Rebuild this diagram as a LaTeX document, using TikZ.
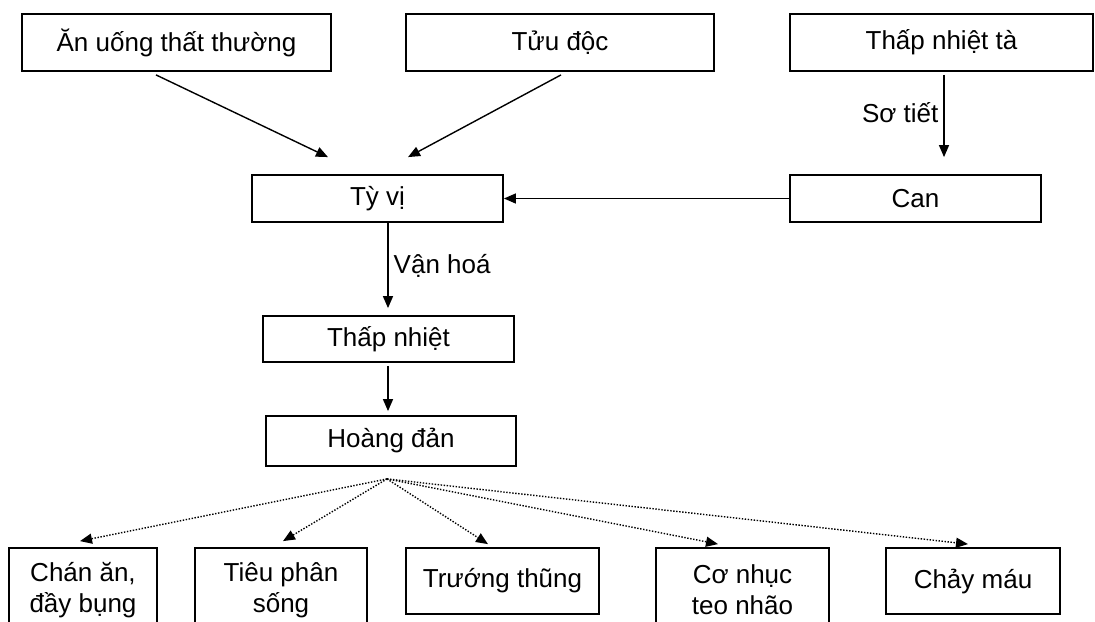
\documentclass[tikz,border=0pt]{standalone}
\usepackage{fontspec}
\setmainfont{Liberation Sans}
\usetikzlibrary{arrows.meta}

\begin{document}
\begin{tikzpicture}[x=0.5pt, y=-0.5pt, font=\fontsize{13}{15.5}\selectfont,
			khung/.style={draw, line width=0.9pt, inner sep=0pt, align=center},
			muiten/.style={line width=0.7pt, -{Triangle[length=6pt,width=5pt]}},
			chamcham/.style={muiten, dash pattern=on 0.7pt off 0.8pt}]
	\useasboundingbox (0,0) rectangle (1095,621);
	\clip (0,0) rectangle (1095,621);
	\node[khung, minimum width=154.5pt, minimum height=28.5pt] (anuong) at (176.5,42.5) {Ăn uống thất thường};
	\node[khung, minimum width=154pt, minimum height=28.5pt] (tuudoc) at (560,42.5) {Tửu độc};
	\node[khung, minimum width=151.5pt, minimum height=28.5pt] (thapnhietta) at (941.5,42.5) {Thấp nhiệt tà};
	\node[khung, minimum width=125.5pt, minimum height=23.5pt] (tyvi) at (377.5,198.5) {Tỳ vị};
	\node[khung, minimum width=125.5pt, minimum height=23.5pt] (can) at (915.5,198.5) {Can};
	\node[khung, minimum width=125.5pt, minimum height=23pt] (thapnhiet) at (388.5,339) {Thấp nhiệt};
	\node[khung, minimum width=125pt, minimum height=25pt] (hoangdan) at (391,441) {Hoàng đản};
	\node[khung, minimum width=74pt, minimum height=42pt] (chanan) at (83,590) {Chán ăn,\\đầy bụng};
	\node[khung, minimum width=86pt, minimum height=42pt] (tieuphan) at (281,590) {Tiêu phân\\sống};
	\node[khung, minimum width=96.5pt, minimum height=33pt] (truongthung) at (502.5,581) {Trướng thũng};
	\node[khung, minimum width=86.5pt, minimum height=42pt] (conhuc) at (742.5,590) {Cơ nhục\\teo nhão};
	\node[khung, minimum width=87pt, minimum height=33pt] (chaymau) at (973,581) {Chảy máu};

	\draw[muiten] ([shift={(-20.5,3)}]anuong.south) -- ([shift={(-49.5,-17)}]tyvi.north);
	\draw[muiten] ([shift={(1,3)}]tuudoc.south) -- ([shift={(30.5,-17)}]tyvi.north);
	\draw[muiten] ([shift={(2.5,3)}]thapnhietta.south) -- node[left, pos=0.46, inner sep=2.5pt] {Sơ tiết} ([shift={(28.5,-17)}]can.north);
	\draw[muiten] (can.west) -- (tyvi.east);
	\draw[muiten] ([shift={(10.5,0)}]tyvi.south) -- node[right, midway, inner sep=2.5pt] {Vận hoá} ([shift={(-0.5,-7)}]thapnhiet.north);
	\draw[muiten] ([shift={(-0.5,3)}]thapnhiet.south) -- ([shift={(-3,-4)}]hoangdan.north);

	\coordinate (tam) at ([shift={(-4,12)}]hoangdan.south);
	\draw[chamcham] (tam) -- ([shift={(-3,-6)}]chanan.north);
	\draw[chamcham] (tam) -- ([shift={(2,-6)}]tieuphan.north);
	\draw[chamcham] (tam) -- ([shift={(-14.5,-3)}]truongthung.north);
	\draw[chamcham] (tam) -- ([shift={(-24.5,-3)}]conhuc.north);
	\draw[chamcham] (tam) -- ([shift={(-5,-3)}]chaymau.north);
\end{tikzpicture}
\end{document}
